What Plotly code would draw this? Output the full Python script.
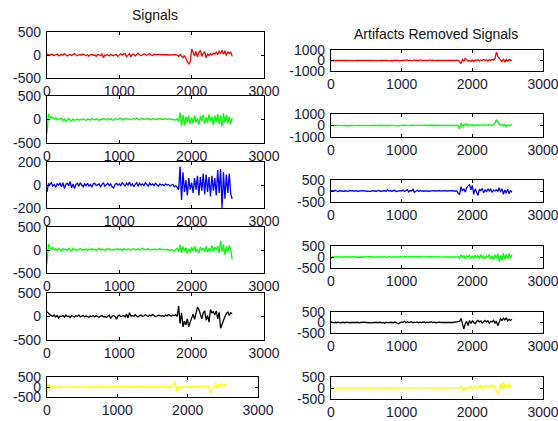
import plotly.graph_objects as go

# ---------------- data (sample step 20, x = 0 .. 2560) ----------------
L1_red = [20, 10, -5, 15, 0, -10, 5, 20, -15, 0,
          10, -5, 25, 5, -20, 0, 10, -10, 15, 30,
          0, -15, 5, 10, -5, 20, 0, -10, 10, -25,
          5, 15, -5, 0, -30, 10, 5, -15, 20, -60,
          0, -10, 5, -20, 10, 0, -15, 5, 10, -30,
          10, 30, -5, 15, 40, -40, 10, 30, -35, 15,
          20, -20, 10, 40, 5, -10, 0, 25, 15, -5,
          10, 30, 0, -10, 20, 5, 15, 10, 5, 0,
          5, 10, 0, 5, 0, 5, 5, 0, 5, 10,
          0, -30, 10, -20, -60, -10, -80, -120, -200, -140,
          130, 60, -20, 80, -40, 60, 100, -30, 40, 70,
          -60, 20, -10, 30, 0, 40, 20, 60, 10, 80,
          40, 100, 20, 90, -10, 70, 30, 60, -30]
L2_green = [-300, 120, 60, 30, 50, 10, 40, -10, 20, 0,
            30, -20, 10, -40, 0, 20, -10, -30, 10, -20,
            0, 10, -15, 5, -10, 15, 0, -20, 10, 5,
            -10, 20, 0, -5, 15, 10, -20, 5, 0, 20,
            10, -10, 25, 0, 15, 5, -15, 20, 10, 0,
            15, 30, -10, 20, 5, 25, 0, 15, -5, 10,
            20, 0, 30, 10, -5, 15, 25, 0, 10, 20,
            5, 15, -10, 20, 10, 0, 15, 5, 25, 0,
            10, 5, 20, 0, 15, 10, 5, 0, 10, -10,
            20, -30, 150, -140, 100, -120, 60, -60, 80, -100,
            40, -80, 90, -60, 30, -110, 70, -40, 100, -90,
            50, -70, 110, -30, 60, -120, 80, -50, 120, -100,
            90, -150, 130, -60, 100, -80, 60, -90, 40]
L3_blue = [-60, 10, 5, 20, -10, 5, -20, 10, 0, 15,
           -15, 20, -30, 5, 15, -5, 30, -25, 10, -30,
           5, 15, -10, 20, 0, -15, 10, -5, 15, -10,
           5, -20, 10, 15, -5, 0, 10, -15, 5, 20,
           -10, 5, 15, -5, 10, -15, -25, 5, 15, 0,
           10, -5, 20, 5, -10, 15, 0, 25, -5, 10,
           -15, 5, 20, -10, 15, 0, 10, -5, 20, 5,
           -10, 15, 0, 10, -5, 15, 5, -10, 10, 0,
           5, -5, 10, 0, 5, -10, 0, 5, -15, -5,
           -20, -40, 160, -130, 110, -60, 40, -90, 60, -40,
           20, -70, 60, -40, 80, -90, 70, -50, 100, -80,
           90, -60, 70, -100, 80, -50, 60, -90, 130, -70,
           140, -200, 110, -120, 90, -70, 100, -80, -120]
L4_green = [-300, 130, 50, 20, 60, 0, 30, -10, 40, 10,
            -20, 30, 0, 20, -10, 40, 10, -20, 30, 0,
            20, -15, 10, 30, -5, 15, 0, 25, -10, 20,
            5, 30, 0, 20, -10, 15, 40, 0, 20, 10,
            -10, 25, 5, 30, 0, 15, -5, 20, 10, 30,
            0, 20, -10, 30, 15, 0, 25, 10, -5, 20,
            30, 0, 15, 25, -10, 20, 40, 5, 20, 10,
            30, 0, 15, 20, 5, 25, 0, 15, 30, 5,
            20, 10, 0, 15, 5, -10, 10, 0, -20, 10,
            40, -40, 110, -60, 80, -30, 50, -70, 30, -50,
            60, -20, 90, -40, 20, -60, 70, -10, 50, -30,
            80, -50, 40, -20, 100, -40, 60, 0, 90, -60,
            200, -30, 120, -100, 80, -40, 100, 20, -200]
L5_black = [100, 60, 40, 20, 0, 30, -10, 20, -30, 10,
            0, 20, -10, 30, 0, 10, -20, 20, 10, -10,
            20, 0, 30, -10, 10, 20, -5, 10, 0, -20,
            10, 0, 20, -10, 15, 0, -15, 10, 20, -5,
            0, -20, 10, 30, -40, 5, 20, 0, -60, 10,
            30, 0, 10, 20, -10, 50, -30, 80, 10, 20,
            0, 40, 10, -10, 20, 30, 0, 10, 40, 20,
            0, 30, 10, 40, 20, 0, 10, 30, 20, 10,
            20, 0, 30, 10, 40, 20, 10, 30, 20, 40,
            0, 220, -150, 80, -220, -100, -180, -50, -220, -120,
            -20, 50, -60, 100, 200, 150, 50, -50, 80, 120,
            -80, 20, -120, 150, 80, 100, 30, 120, -50, 90,
            -250, -150, -100, 0, 60, 100, 20, 80, 60]
L6_yellow = [-450, 150, 60, 20, 40, 0, 20, 10, -10, 20,
             0, 10, -20, 10, 0, 30, -10, 10, 20, 0,
             -10, 20, 0, 10, -20, 10, 20, 0, -10, 20,
             0, 10, 20, -10, 0, 20, 10, 0, 30, -10,
             20, 0, 10, 30, -10, 20, 0, 30, 10, 0,
             20, 40, 0, 30, 10, 20, 0, 40, 10, 30,
             0, 20, 10, 30, 0, 20, 40, 10, 20, 0,
             30, 10, 20, 0, 10, 30, 20, 0, 20, 10,
             0, 20, 10, 0, 20, 10, 0, 20, 10, 0,
             30, 300, -200, 50, -100, 0, -60, 20, -30, 10,
             40, -20, 30, 0, 50, -10, 30, 60, 0, 40,
             20, 60, -10, 50, 0, 30, -300, -150, -100, 50,
             200, -50, 150, 20, 180, 60, 120, 80, 100]

R1_red = [0, -30, 20, -10, 10, 0, 20, -10, 0, 10,
          0, 10, -10, 40, 0, 10, 0, -10, 10, 0,
          0, 10, 0, -10, 10, 0, 10, 0, -10, 0,
          10, 0, 0, 10, -10, 0, 10, 0, -20, 40,
          0, -30, 20, 0, -20, 30, 0, 40, -30, 20,
          0, 30, -20, 50, 10, 0, 40, -10, 20, 60,
          0, 30, -20, 50, 10, 0, 40, -10, 20, 0,
          50, 0, 30, -20, 10, 0, 0, 10, 0, 0,
          0, 10, 0, 0, 10, 0, 0, 10, 0, 0,
          0, -100, -300, 100, -50, 200, 50, -60, 0, -80,
          30, -100, 50, 0, 80, -20, 60, 0, 100, 20,
          60, -30, 80, 0, 120, 40, 200, 800, 400, 200,
          100, -100, 150, -150, 80, -50, 100, 0, 50]
R2_green = [0, 20, -10, 10, 0, 30, -10, 0, 20, 0,
            10, -20, 0, 10, 30, 0, -10, 20, 0, 10,
            0, 10, -10, 20, 0, 10, 0, -10, 10, 0,
            20, 0, -10, 10, 0, 20, -10, 0, 10, 30,
            0, -20, 10, 30, 0, -10, 20, 0, 10, -20,
            10, 30, 0, 20, -10, 10, 30, 0, 20, 10,
            0, 20, 10, 30, 0, 10, 20, 0, 10, 0,
            20, 10, 0, 20, 0, 10, 0, 10, 0, 10,
            0, 10, 0, 0, 10, 0, 10, 0, 0, 10,
            0, -300, 250, -150, 100, 50, 150, -50, 100, 0,
            80, -30, 60, 0, 100, -20, 50, 0, 80, 20,
            50, -10, 100, 30, 0, 80, 200, 500, 300, 100,
            0, 100, -50, 80, -80, 50, -30, 60, 0]
R3_blue = [0, 20, -10, 30, 0, -20, 10, 0, 20, -10,
           10, 0, -20, 10, 0, 20, -10, 0, 10, -20,
           0, 10, -10, 20, 0, -10, 10, 0, -20, 10,
           0, 20, -10, 10, 30, -10, 0, 20, 10, -20,
           60, 0, 20, -10, 10, 30, -20, 0, 10, 20,
           0, 40, -20, 10, 60, -40, 20, 0, 80, -60,
           10, 30, -10, 20, 0, 10, -10, 0, 10, -10,
           0, 10, -10, 20, 0, 10, 0, 20, 0, 10,
           0, 20, 0, 10, 0, 10, 20, 0, 10, 0,
           -100, -150, 200, 0, 100, -50, 150, 250, 300, 50,
           250, -150, 100, -50, -200, 80, 20, 120, -80, 60,
           -40, 100, 0, 80, -60, 40, 0, 60, -20, 150,
           -50, 100, -150, 50, -100, 80, -120, 30, -60]
R4_green = [-100, 20, 0, 10, -10, 20, 0, -10, 10, 0,
            20, -10, 0, 10, -20, 10, 0, 20, -10, 0,
            10, 0, -10, 20, 0, 10, -10, 0, 20, 0,
            -10, 10, 0, 20, -10, 0, 10, 20, 0, -10,
            10, 0, 20, -10, 10, 0, 20, 0, 10, -10,
            20, 0, 10, 30, -10, 20, 0, 10, 30, 0,
            10, 20, 0, 30, 10, 0, 20, 10, 30, 0,
            20, 10, 0, 20, 10, 30, 0, 10, 20, 0,
            10, 0, 20, 10, 0, 10, 20, 0, 10, 0,
            20, -60, 100, -40, 80, -80, 60, -20, 90, -50,
            40, -70, 80, -30, 60, -60, 100, -40, 50, -80,
            70, -20, 120, -90, 60, -120, 100, -60, 150, -200,
            80, -150, 180, -100, 120, -80, 150, -50, 100]
R5_black = [30, 0, -20, 10, -10, 20, 0, -20, 10, 0,
            -10, 20, 0, -10, 10, 0, 20, -10, 0, 10,
            -20, 0, 10, -10, 20, 0, -10, 10, 0, -20,
            10, 0, 20, -10, 0, 10, -20, 0, -40, 10,
            0, -20, 10, 0, -10, 20, 0, -10, -60, 0,
            30, 0, 60, -10, 40, 0, 20, 30, -10, 20,
            0, 30, -10, 20, 0, 10, 30, -10, 20, 0,
            10, 30, 0, 20, -10, 10, 0, 20, 0, 10,
            0, 20, 10, 0, 20, 10, 0, 10, 20, 0,
            10, 50, 200, -100, -300, -50, 50, -150, 100, -50,
            80, 0, -60, 50, 100, 30, 80, -20, 60, 100,
            20, 80, -40, 60, 30, 100, -30, 60, -150, 50,
            180, 100, 200, 120, 220, 80, 160, 100, 150]
R6_yellow = [150, -30, 20, 0, -10, 20, 0, -20, 10, 0,
             -10, 20, 0, -20, 10, 0, 20, -10, 0, 10,
             -20, 0, 10, -10, 20, 0, -10, 10, 0, -20,
             10, 0, 20, -10, 0, 10, -20, 0, 10, -10,
             0, -20, 10, 0, -10, 20, 0, -10, 10, 0,
             20, 0, 30, -10, 10, 0, 20, 30, -10, 20,
             0, 30, -10, 20, 0, 10, 30, -10, 20, 0,
             10, 30, 0, 20, -10, 10, 0, 20, 0, 10,
             0, 20, 10, 0, 20, 10, 0, 10, 20, 0,
             10, 0, 120, -120, 40, -60, 20, 60, -30, 80,
             0, 50, 100, -20, 80, 30, 120, 0, 90, 40,
             110, 20, 100, 60, 130, 30, 80, -100, -250, -150,
             200, -50, 250, 50, 150, -20, 220, 60, 100]

x_ticks = [0, 1000, 2000, 3000]
x_ticktext = ["0", "1000", "2000", "3000"]
titles = ["Signals", "Artifacts Removed Signals"]

W, H = 558, 421

# (series, colour, y-limit, box px: x0, x1, y_top, y_bottom)
panels = [
    (L1_red, "#ff0000", 500, (47, 264, 32, 78)),
    (L2_green, "#00ff00", 500, (47, 264, 96, 143)),
    (L3_blue, "#0000ff", 200, (47, 264, 162, 208)),
    (L4_green, "#00ff00", 500, (47, 264, 227, 273)),
    (L5_black, "#000000", 500, (47, 264, 293, 340)),
    (L6_yellow, "#ffff00", 500, (47, 258, 377, 397)),
    (R1_red, "#ff0000", 1000, (331, 543, 50, 71)),
    (R2_green, "#00ff00", 1000, (331, 543, 114, 137)),
    (R3_blue, "#0000ff", 500, (331, 543, 180, 202)),
    (R4_green, "#00ff00", 500, (331, 543, 246, 268)),
    (R5_black, "#000000", 500, (331, 543, 312, 333)),
    (R6_yellow, "#ffff00", 500, (331, 543, 377, 399)),
]

fig = go.Figure()
tickfont = dict(family="Liberation Sans, Arial, sans-serif", size=14, color="#1a1a40")
layout = {}
for i, (vals, col, lim, box) in enumerate(panels):
    n = i + 1
    xs = [20 * k for k in range(len(vals))]
    xa = "x" if n == 1 else f"x{n}"
    ya = "y" if n == 1 else f"y{n}"
    fig.add_trace(go.Scatter(x=xs, y=vals, mode="lines", xaxis=xa, yaxis=ya,
                             line=dict(color=col, width=1.3), showlegend=False,
                             hoverinfo="skip"))
    x0, x1, yt, yb = box
    axcommon = dict(showline=True, linecolor="black", linewidth=1.2, mirror="ticks",
                    ticks="inside", ticklen=3, tickcolor="black", tickwidth=1,
                    showgrid=False, zeroline=False, tickfont=tickfont, fixedrange=True,
                    automargin=False, ticklabeloverflow="allow")
    layout["xaxis" if n == 1 else f"xaxis{n}"] = dict(
        domain=[x0 / W, x1 / W], range=[0, 3000], tickmode="array",
        tickvals=x_ticks, ticktext=x_ticktext, anchor=ya, **axcommon)
    layout["yaxis" if n == 1 else f"yaxis{n}"] = dict(
        domain=[1 - yb / H, 1 - yt / H], range=[-lim, lim], tickmode="array",
        tickvals=[-lim, 0, lim], ticktext=[f"-{lim}", "0", f"{lim}"],
        anchor=xa, ticklabelstandoff=2, **axcommon)

fig.update_layout(**layout)
fig.update_layout(
    template="none",
    width=W, height=H, margin=dict(l=0, r=0, t=0, b=0, autoexpand=False),
    paper_bgcolor="white", plot_bgcolor="white",
    annotations=[
        dict(text=titles[0], x=155 / W, y=1 - 15 / H, xref="paper", yref="paper",
             xanchor="center", yanchor="middle", showarrow=False,
             font=dict(family="Liberation Sans, Arial, sans-serif", size=14,
                       color="#111111")),
        dict(text=titles[1], x=436 / W, y=1 - 34 / H, xref="paper", yref="paper",
             xanchor="center", yanchor="middle", showarrow=False,
             font=dict(family="Liberation Sans, Arial, sans-serif", size=14,
                       color="#111111")),
    ],
)
fig.write_html("out.html", config={"displayModeBar": False},
               post_script="document.body.style.margin='0';document.body.style.overflow='hidden';")
